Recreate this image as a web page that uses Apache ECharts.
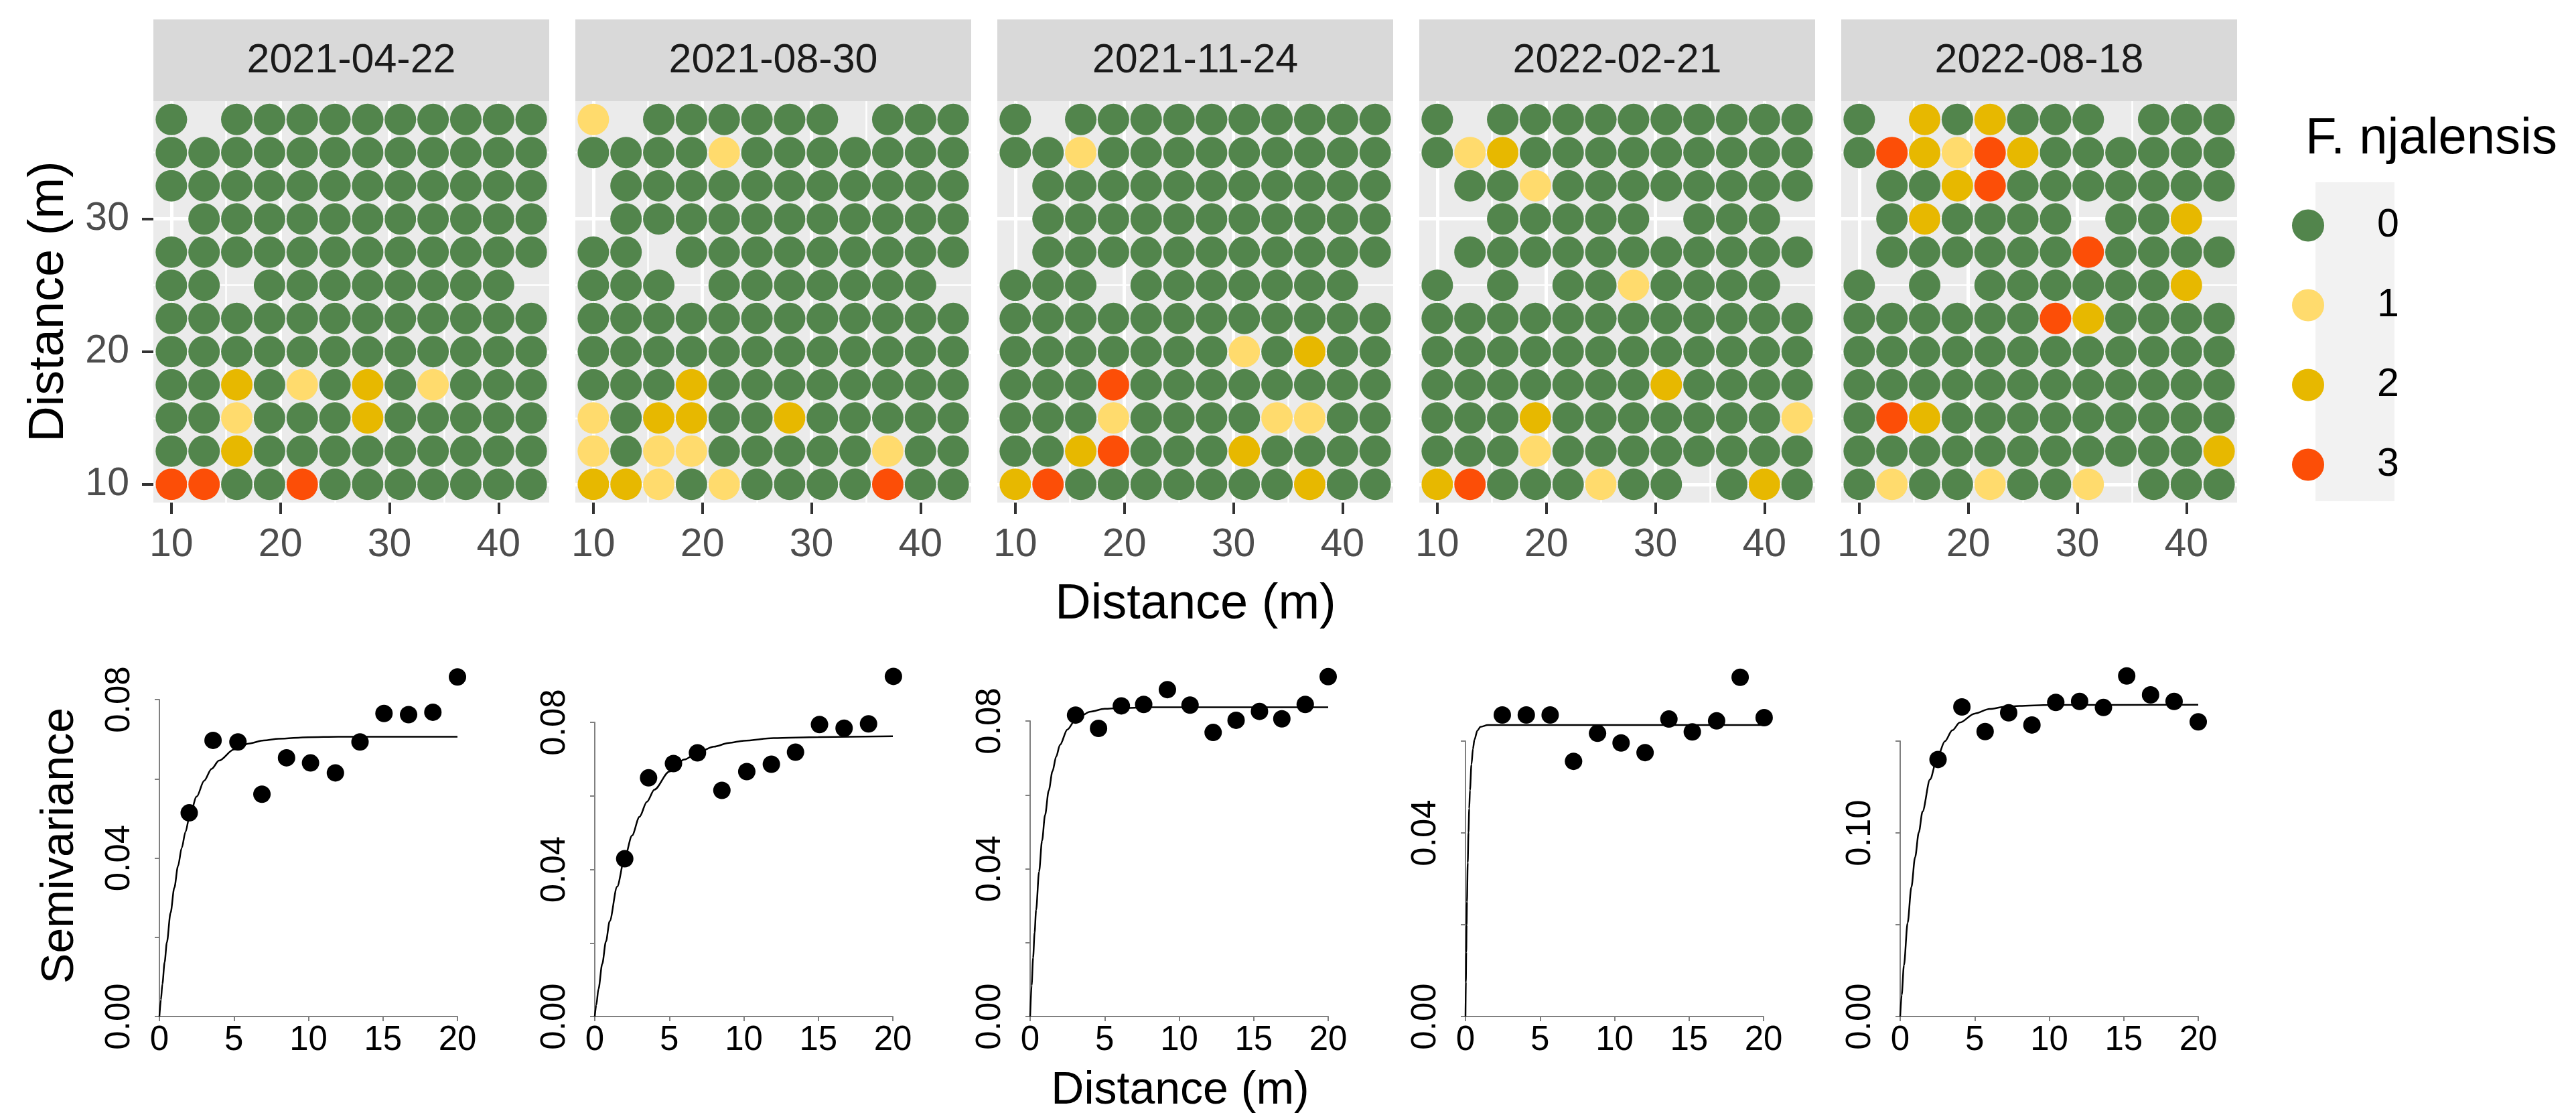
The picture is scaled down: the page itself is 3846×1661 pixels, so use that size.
<!DOCTYPE html>
<html>
<head>
<meta charset="utf-8">
<title>F. njalensis maps and semivariograms</title>
<script src="https://cdn.jsdelivr.net/npm/echarts@6/dist/echarts.min.js"></script>
<style>
html, body { margin: 0; padding: 0; background: #fff; }
#main { width: 3846px; height: 1661px; }
</style>
</head>
<body>
<div id="main"></div>
<script>
// survey dates, one facet each
var dates = ["2021-04-22", "2021-08-30", "2021-11-24", "2022-02-21", "2022-08-18"];

// tree positions (m)
var colX = [10, 13, 16, 19, 22, 25, 28, 31, 34, 37, 40, 43];
var rowY = [37.5, 35, 32.5, 30, 27.5, 25, 22.5, 20, 17.5, 15, 12.5, 10];

// score of every tree, rows from the top, "." = no tree
var map1 = [
	"0.0000000000",
	"000000000000",
	"000000000000",
	".00000000000",
	"000000000000",
	"00.00000000.",
	"000000000000",
	"000000000000",
	"002010201000",
	"001000200000",
	"002000000000",
	"330030000000"
];
var map2 = [
	"1.000000.000",
	"000010000000",
	".00000000000",
	".00000000000",
	"00.000000000",
	"000.0000000.",
	"000000000000",
	"000000000000",
	"000200000000",
	"102200200000",
	"101100000100",
	"221010000300"
];
var map3 = [
	"0.0000000000",
	"001000000000",
	".00000000000",
	".00000000000",
	".00000000000",
	"000.0000000.",
	"000000000000",
	"000000010200",
	"000300000000",
	"000100001100",
	"002300020000",
	"230000000200"
];
var map4 = [
	"0.0000000000",
	"012000000000",
	".00100000000",
	"..00000.000.",
	".00000000000",
	"0.0.0010000.",
	"000000000000",
	"000000000000",
	"000000020000",
	"000200000001",
	"000100000000",
	"23000100.020"
];
var map5 = [
	"0.202000.000",
	"032132000000",
	".00230000000",
	".020000.002.",
	".00000030000",
	"0.0.0000002.",
	"000000320000",
	"000000000000",
	"000000000000",
	"032000000000",
	"000000000002",
	"01001001.000"
];
var maps = [map1, map2, map3, map4, map5];

var levels = ["0", "1", "2", "3"];
var levelColors = ["#52854C", "#FFDB6D", "#E7B800", "#FC4E07"];

// semivariograms: lag (m), semivariance
var lag1 = [2.0, 3.6, 5.27, 6.88, 8.53, 10.14, 11.81, 13.46, 15.07, 16.72, 18.35, 20.0];
var semi1 = [0.0514, 0.0697, 0.0693, 0.0561, 0.0653, 0.0640, 0.0615, 0.0693, 0.0765, 0.0762, 0.0768, 0.0857];
var lag2 = [2.01, 3.61, 5.28, 6.89, 8.53, 10.2, 11.85, 13.47, 15.08, 16.73, 18.37, 20.04];
var semi2 = [0.0429, 0.0649, 0.0688, 0.0717, 0.0615, 0.0666, 0.0686, 0.0719, 0.0794, 0.0784, 0.0796, 0.0925];
var lag3 = [3.05, 4.59, 6.12, 7.62, 9.21, 10.73, 12.28, 13.82, 15.39, 16.89, 18.46, 20.0];
var semi3 = [0.0816, 0.0780, 0.0841, 0.0845, 0.0885, 0.0843, 0.0769, 0.0802, 0.0826, 0.0806, 0.0845, 0.0920];
var lag4 = [2.47, 4.08, 5.68, 7.25, 8.86, 10.44, 12.05, 13.65, 15.22, 16.85, 18.43, 20.04];
var semi4 = [0.0657, 0.0657, 0.0657, 0.0556, 0.0617, 0.0596, 0.0575, 0.0648, 0.0620, 0.0644, 0.0739, 0.0651];
var lag5 = [2.54, 4.14, 5.7, 7.28, 8.84, 10.44, 12.04, 13.64, 15.2, 16.8, 18.38, 20.0];
var semi5 = [0.140, 0.1686, 0.1552, 0.1654, 0.1588, 0.1711, 0.1716, 0.1683, 0.1855, 0.1752, 0.1716, 0.1605];

// fitted model curves
var fitX1 = [0, 0.1, 0.2, 0.35, 0.5, 0.75, 1, 1.25, 1.5, 1.75, 2, 2.5, 3, 3.5, 4, 5, 6, 7, 8, 10, 12, 20];
var fitY1 = [0, 0.0042, 0.0082, 0.0137, 0.0187, 0.0262, 0.0325, 0.0380, 0.0426, 0.0466, 0.0501, 0.0555, 0.0595, 0.0625, 0.0646, 0.0674, 0.0689, 0.0697, 0.0701, 0.0705, 0.0706, 0.0706];
var fitX2 = [0, 0.1, 0.25, 0.5, 0.75, 1, 1.5, 2, 2.5, 3, 3.5, 4, 5, 6, 7, 8, 9, 10, 12, 15, 20];
var fitY2 = [0, 0.0031, 0.0075, 0.0143, 0.0204, 0.0259, 0.0353, 0.0430, 0.0492, 0.0543, 0.0584, 0.0617, 0.0666, 0.0699, 0.0720, 0.0734, 0.0744, 0.0750, 0.0757, 0.0760, 0.0762];
var fitX3 = [0, 0.1, 0.2, 0.3, 0.4, 0.6, 0.8, 1, 1.25, 1.5, 1.75, 2, 2.5, 3, 3.5, 4, 5, 6, 8, 20];
var fitY3 = [0, 0.0084, 0.0159, 0.0227, 0.0288, 0.0392, 0.0476, 0.0545, 0.0612, 0.0664, 0.0704, 0.0735, 0.0777, 0.0801, 0.0816, 0.0825, 0.0833, 0.0835, 0.0837, 0.0837];
var fitX4 = [0, 0.025, 0.05, 0.075, 0.1, 0.15, 0.2, 0.25, 0.3, 0.4, 0.5, 0.6, 0.8, 1, 1.5, 20];
var fitY4 = [0, 0.0075, 0.0140, 0.0199, 0.0250, 0.0335, 0.0401, 0.0453, 0.0493, 0.0549, 0.0583, 0.0603, 0.0623, 0.0631, 0.0635, 0.0635];
var fitX5 = [0, 0.1, 0.25, 0.5, 0.75, 1, 1.25, 1.5, 2, 2.5, 3, 3.5, 4, 5, 6, 7, 8, 10, 20];
var fitY5 = [0, 0.0117, 0.0278, 0.0510, 0.0704, 0.0867, 0.1003, 0.1116, 0.1291, 0.1413, 0.1499, 0.1559, 0.1601, 0.1650, 0.1675, 0.1687, 0.1692, 0.1697, 0.1698];

var lags = [lag1, lag2, lag3, lag4, lag5];
var semis = [semi1, semi2, semi3, semi4, semi5];
var fitXs = [fitX1, fitX2, fitX3, fitX4, fitX5];
var fitYs = [fitY1, fitY2, fitY3, fitY4, fitY5];

// y axis of each semivariogram: top tick, tick step, labelled ticks
var semiMax = [0.08, 0.08, 0.08, 0.06, 0.15];
var semiStep = [0.02, 0.02, 0.02, 0.02, 0.05];
var semiLabels = [[0, 0.04, 0.08], [0, 0.04, 0.08], [0, 0.04, 0.08], [0, 0.04], [0, 0.1]];


var font = "'Liberation Sans', Arial, sans-serif";

// layout (pixels)
var mapLeft = [229, 859, 1489, 2119, 2749];
var mapTop = 151, mapW = 591, mapH = 599;
var semiLeft = [238, 888, 1538, 2188, 2837];
var semiTop = [1044, 1078, 1076, 1106, 1106];
var semiBottom = 1517, semiW = 445;

function zip(xs, ys) {
	var out = [];
	for (var i = 0; i < xs.length; i++) out.push([xs[i], ys[i]]);
	return out;
}

// trees of one score in one map
function treesOf(rows, level) {
	var out = [];
	for (var r = 0; r < rows.length; r++) {
		for (var c = 0; c < rows[r].length; c++) {
			if (rows[r].charAt(c) === level) out.push([colX[c], rowY[r]]);
		}
	}
	return out;
}

var grids = [], xAxes = [], yAxes = [], series = [], graphics = [];

//上排：分布图
for (var p = 0; p < 5; p++) {
	grids.push({
		left: mapLeft[p], top: mapTop, width: mapW, height: mapH,
		show: true, backgroundColor: "#EBEBEB", borderWidth: 0,
		outerBoundsMode: "none", containLabel: false
	});
	xAxes.push({
		type: "value", gridIndex: p, min: 8.35, max: 44.65, splitNumber: 4,
		axisLine: { show: false },
		axisTick: { show: true, customValues: [10, 20, 30, 40], length: 17, lineStyle: { color: "#333333", width: 4 } },
		axisLabel: { customValues: [10, 20, 30, 40], fontSize: 59, color: "#4D4D4D", fontFamily: font, margin: 34 },
		splitLine: { show: true, lineStyle: { color: "#FFFFFF", width: 5 } },
		minorTick: { show: false, splitNumber: 2 },
		minorSplitLine: { show: true, lineStyle: { color: "#FFFFFF", width: 2.5 } }
	});
	yAxes.push({
		type: "value", gridIndex: p, min: 8.625, max: 38.875, splitNumber: 3,
		axisLine: { show: false },
		axisTick: { show: p === 0, customValues: [10, 20, 30], length: 17, lineStyle: { color: "#333333", width: 4 } },
		axisLabel: { show: p === 0, customValues: [10, 20, 30], fontSize: 59, color: "#4D4D4D", fontFamily: font, margin: 36 },
		splitLine: { show: true, lineStyle: { color: "#FFFFFF", width: 5 } },
		minorTick: { show: false, splitNumber: 2 },
		minorSplitLine: { show: true, lineStyle: { color: "#FFFFFF", width: 2.5 } }
	});
	for (var k = 0; k < levels.length; k++) {
		series.push({
			name: levels[k], type: "scatter", xAxisIndex: p, yAxisIndex: p,
			data: treesOf(maps[p], levels[k]),
			symbol: "circle", symbolSize: 47, silent: true,
			itemStyle: { color: levelColors[k], opacity: 1 }
		});
	}
	// facet strip
	graphics.push({
		type: "rect", shape: { x: mapLeft[p], y: 29, width: mapW, height: 122 },
		style: { fill: "#D9D9D9" }, silent: true
	});
	graphics.push({
		type: "text", x: mapLeft[p] + mapW / 2, y: 91,
		style: { text: dates[p], fontSize: 61, fontFamily: font, fill: "#1A1A1A", align: "center", verticalAlign: "middle" }
	});
}

//下排：半变异函数
for (var q = 0; q < 5; q++) {
	var g = 5 + q;
	grids.push({
		left: semiLeft[q], top: semiTop[q], width: semiW, height: semiBottom - semiTop[q],
		show: false, outerBoundsMode: "none", containLabel: false
	});
	xAxes.push({
		type: "value", gridIndex: g, min: 0, max: 20, interval: 5,
		axisLine: { show: true, onZero: false, lineStyle: { color: "#808080", width: 2 } },
		axisTick: { show: true, length: 7, lineStyle: { color: "#808080", width: 2 } },
		axisLabel: { fontSize: 51, color: "#000000", fontFamily: font, margin: 10 },
		splitLine: { show: false }
	});
	yAxes.push({
		type: "value", gridIndex: g, min: 0, max: semiMax[q], interval: semiStep[q],
		axisLine: { show: true, onZero: false, lineStyle: { color: "#808080", width: 2 } },
		axisTick: { show: true, length: 7, lineStyle: { color: "#808080", width: 2 } },
		axisLabel: {
			customValues: semiLabels[q], rotate: 90, fontSize: 51, color: "#000000", fontFamily: font, margin: 34,
			formatter: function (v) { return v.toFixed(2); }
		},
		splitLine: { show: false }
	});
	series.push({
		name: "fit" + q, type: "line", xAxisIndex: g, yAxisIndex: g,
		data: zip(fitXs[q], fitYs[q]), showSymbol: false, smooth: 0.3, smoothMonotone: "x",
		clip: false, silent: true,
		lineStyle: { color: "#000000", width: 2.5 }
	});
	series.push({
		name: "semi" + q, type: "scatter", xAxisIndex: g, yAxisIndex: g,
		data: zip(lags[q], semis[q]), symbol: "circle", symbolSize: 26,
		clip: false, silent: true, itemStyle: { color: "#000000", opacity: 1 }
	});
}

// axis titles and legend backdrop
graphics.push({
	type: "text", x: 1785, y: 903,
	style: { text: "Distance (m)", fontSize: 74, fontFamily: font, fill: "#000000", align: "center", verticalAlign: "middle" }
});
graphics.push({
	type: "text", x: 74, y: 450, rotation: Math.PI / 2,
	style: { text: "Distance (m)", fontSize: 74, fontFamily: font, fill: "#000000", align: "center", verticalAlign: "middle" }
});
graphics.push({
	type: "text", x: 90, y: 1262, rotation: Math.PI / 2,
	style: { text: "Semivariance", fontSize: 68, fontFamily: font, fill: "#000000", align: "center", verticalAlign: "middle" }
});
graphics.push({
	type: "text", x: 1762, y: 1628,
	style: { text: "Distance (m)", fontSize: 68, fontFamily: font, fill: "#000000", align: "center", verticalAlign: "middle" }
});
graphics.push({
	type: "text", x: 3442, y: 208,
	style: { text: "F. njalensis", fontSize: 76, fontFamily: font, fill: "#000000", align: "left", verticalAlign: "middle" }
});
graphics.push({
	type: "rect", shape: { x: 3457, y: 272, width: 118, height: 476 },
	style: { fill: "#F2F2F2" }, silent: true, z: -1
});

var chart = echarts.init(document.getElementById("main"), null, { renderer: "canvas" });
var option = {
	animation: false,
	backgroundColor: "#FFFFFF",
	grid: grids,
	xAxis: xAxes,
	yAxis: yAxes,
	// wide item box: circle stays centred on the key, label sits further right
	legend: {
		data: levels, orient: "vertical", left: 3417, top: 302,
		itemWidth: 196, itemHeight: 48, itemGap: 60, icon: "circle",
		selectedMode: false,
		textStyle: { fontSize: 59, fontFamily: font, color: "#000000" }
	},
	graphic: graphics,
	series: series
};
chart.setOption(option, true);
</script>
</body>
</html>
